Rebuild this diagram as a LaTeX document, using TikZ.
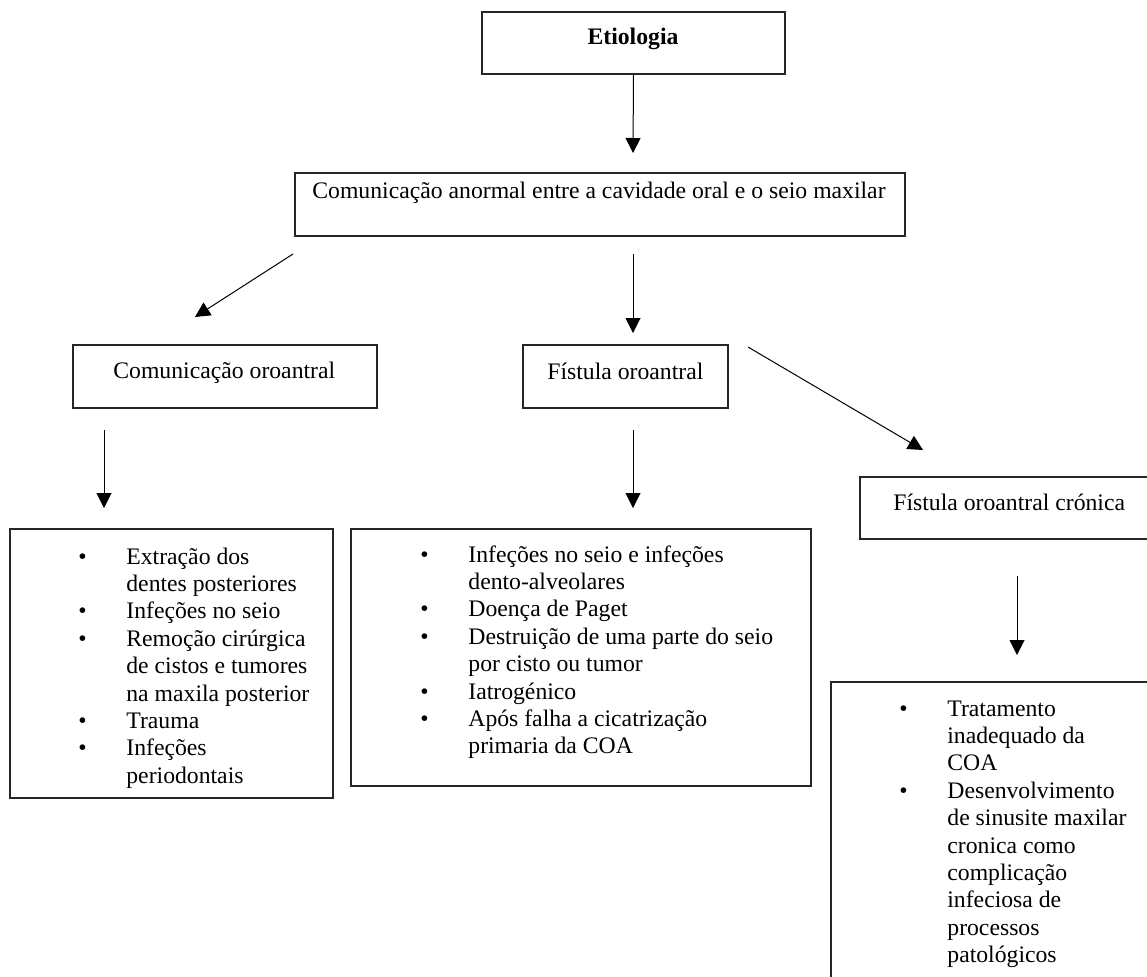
\documentclass[tikz,border=0pt]{standalone}
\usepackage{fontspec}
\setmainfont{Liberation Serif}
\usetikzlibrary{arrows.meta,fit}
\tikzset{
  box/.style={draw=black!85, line width=0.7pt, inner sep=0pt},
  txt/.style={inner sep=0pt, anchor=base west, font=\fontsize{11.85pt}{13.7pt}\selectfont},
  arr/.style={line width=0.5pt, -{Triangle[width=7.5pt,length=7.5pt]}}
}
\newcommand{\blist}[1]{\renewcommand{\arraystretch}{1}\begin{tabular}[t]{@{}p{24pt}@{}l@{}}#1\end{tabular}}
\begin{document}
\begin{tikzpicture}[x=0.5pt,y=-0.5pt]
\useasboundingbox (0,0) rectangle (1147,976);
\clip (0,0) rectangle (1147,976);
\fill[white] (0,0) rectangle (1147,976);
% boxes
\node[box, fit={(482,12) (785,74)}] (etiobox) {};
\node[box, fit={(295,173) (905,236)}] (mainbox) {};
\node[box, fit={(73,345) (377,408)}] (cobox) {};
\node[box, fit={(523,345) (728,408)}] (fobox) {};
\node[box, fit={(860,477) (1170,539)}] (crbox) {};
\node[box, fit={(10,529) (333,798)}] (lbox) {};
\node[box, fit={(351,529) (811,786)}] (mbox) {};
\node[box, fit={(831,682) (1170,1000)}] (rbox) {};
% texts
\node[txt, anchor=base] (etiotxt) at (633,44) {\textbf{Etiologia}};
\node[txt] (maintxt) at (312,198) {Comunicação anormal entre a cavidade oral e o seio maxilar};
\node[txt] (cotxt) at (113,378) {Comunicação oroantral};
\node[txt] (fotxt) at (547,379) {Fístula oroantral};
\node[txt] (crtxt) at (893,510) {Fístula oroantral crónica};
\node[txt] (ltxt) at (78,564) {\blist{%
\textbullet & Extração dos\\
 & dentes posteriores\\
\textbullet & Infeções no seio\\
\textbullet & Remoção cirúrgica\\
 & de cistos e tumores\\
 & na maxila posterior\\
\textbullet & Trauma\\
\textbullet & Infeções\\
 & periodontais}};
\node[txt] (mtxt) at (420,562) {\blist{%
\textbullet & Infeções no seio e infeções\\
 & dento-alveolares\\
\textbullet & Doença de Paget\\
\textbullet & Destruição de uma parte do seio\\
 & por cisto ou tumor\\
\textbullet & Iatrogénico\\
\textbullet & Após falha a cicatrização\\
 & primaria da COA}};
\node[txt] (rtxt) at (899,716) {\blist{%
\textbullet & Tratamento\\
 & inadequado da\\
 & COA\\
\textbullet & Desenvolvimento\\
 & de sinusite maxilar\\
 & cronica como\\
 & complicação\\
 & infeciosa de\\
 & processos\\
 & patológicos}};
% arrow end points
\coordinate (a1e) at (633,153);
\coordinate (a2s) at (293,254);
\coordinate (a2e) at (195,317);
\coordinate (a3s) at (633,254);
\coordinate (a3e) at (633,333);
\coordinate (a4s) at (748,347);
\coordinate (a4e) at (923,450);
\coordinate (a5s) at (104,430);
\coordinate (a5e) at (104,508);
\coordinate (a6s) at (633,430);
\coordinate (a6e) at (633,508);
\coordinate (a7s) at (1017,576);
\coordinate (a7e) at (1017,655);
% arrows
\draw[arr] (etiobox.south) -- (a1e);
\draw[arr] (a2s) -- (a2e);
\draw[arr] (a3s) -- (a3e);
\draw[arr] (a4s) -- (a4e);
\draw[arr] (a5s) -- (a5e);
\draw[arr] (a6s) -- (a6e);
\draw[arr] (a7s) -- (a7e);
\end{tikzpicture}
\end{document}
